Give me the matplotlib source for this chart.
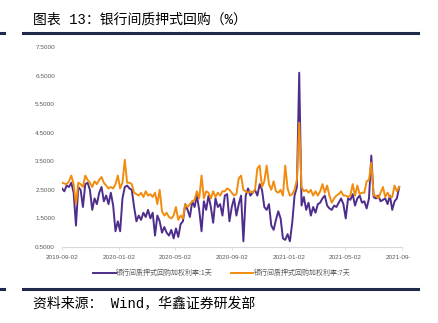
import matplotlib
matplotlib.use("Agg")
import matplotlib.pyplot as plt
from matplotlib.transforms import Bbox, TransformedBbox
import pandas as pd

# 银行间质押式回购加权利率（%），每5天取一个值
start = "2019-09-02"
rate_1d = [2.55, 2.45, 2.65, 2.6, 2.75, 2.4, 1.25, 2.6, 2.5, 1.9,
           2.7, 2.75, 2.5, 1.8, 2.2, 2.0, 2.4, 2.6, 2.1, 2.3,
           2.0, 2.4, 1.95, 1.05, 1.4, 1.05, 2.2, 2.6, 2.65, 2.55,
           2.5, 1.9, 1.4, 1.6, 1.45, 1.7, 1.55, 1.8, 1.5, 1.7,
           0.9, 1.6, 1.4, 1.0, 1.2, 1.0, 0.9, 1.1, 0.8, 1.15,
           0.85, 1.3, 1.4, 2.0, 1.8, 1.55, 2.1, 1.9, 2.3, 1.8,
           1.05, 2.1, 1.8, 2.3, 1.9, 1.35, 2.2, 1.9, 2.0, 1.6,
           2.3, 2.35, 1.4, 1.9, 2.2, 1.6, 2.0, 2.3, 0.7, 2.3,
           2.55, 2.3, 2.4, 2.5, 2.3, 2.7, 2.5, 1.9, 1.8, 2.0,
           1.25, 1.1, 1.45, 1.75, 1.5, 0.8, 0.75, 0.95, 0.7, 1.35,
           2.3, 2.6, 6.6, 1.95, 2.25, 1.8, 2.05, 1.6, 1.9, 1.7,
           2.0, 2.05, 2.2, 2.3, 1.95, 1.85, 1.8, 1.95, 1.9, 2.05,
           2.2, 2.0, 1.5, 2.2, 2.15, 2.35, 1.95, 2.2, 2.3, 2.05,
           2.1, 1.85, 2.2, 3.7, 2.25, 2.2, 2.3, 2.1, 2.15, 2.2,
           2.0, 2.3, 1.8, 2.1, 2.2, 2.6]
rate_7d = [2.75, 2.72, 2.7, 2.8, 3.0, 2.7, 2.0, 2.75, 2.7, 2.6,
           3.0, 2.85, 2.75, 2.6, 2.8, 2.7, 2.85, 2.95, 2.75, 2.65,
           2.55, 2.6, 2.55, 2.7, 3.0, 2.55, 2.75, 3.55, 2.75, 2.75,
           2.7, 2.4, 2.35, 2.3, 2.4, 2.25, 2.45, 2.3, 2.35, 2.25,
           2.4, 2.0, 2.5, 1.75, 1.6, 1.7, 1.55, 1.5, 1.6, 1.9,
           1.45, 1.6, 1.5, 2.0, 1.9, 2.0, 2.1, 2.15, 2.45, 2.2,
           3.0, 2.2, 2.45, 2.4, 2.2, 2.45, 2.25, 2.4, 2.3, 2.45,
           2.45, 2.55, 2.5, 2.4, 2.3, 2.35, 2.9, 3.0, 2.5, 2.45,
           2.4, 2.45, 2.4, 2.5, 3.25, 3.35, 2.6, 2.8, 3.35, 2.7,
           2.5, 2.8, 2.45, 2.4, 2.5, 2.3, 3.35, 2.55, 2.3, 2.35,
           2.5, 2.85, 4.85, 2.6, 2.45, 2.5, 2.4, 2.5, 2.3, 2.45,
           2.3, 2.45, 2.7, 2.4, 2.65, 2.3, 2.05, 2.2, 2.3, 2.35,
           2.45, 2.3, 2.3, 2.25, 2.3, 2.7, 2.3, 2.65, 2.35, 2.4,
           2.4, 2.8, 2.85, 3.45, 2.3, 2.3, 2.2, 2.4, 2.6, 2.25,
           2.4, 2.25, 2.25, 2.65, 2.45, 2.6]
dates = pd.date_range(start, periods=len(rate_1d), freq="5D")

tick_dates = ["2019-09-02", "2020-01-02", "2020-05-02", "2020-09-02",
              "2021-01-02", "2021-05-02", "2021-09-02"]
y_ticks = [0.5, 1.5, 2.5, 3.5, 4.5, 5.5, 6.5, 7.5]
label_1d = "银行间质押式回购加权利率:1天"
label_7d = "银行间质押式回购加权利率:7天"

cjk = ["Noto Sans CJK SC", "DejaVu Sans"]
mono = ["Liberation Mono", "Noto Sans CJK SC"]
grey = "#595959"
navy = "#1f2a4a"

fig = plt.figure(figsize=(4.38, 3.23), dpi=100)
W, H = 438, 323

ax = fig.add_axes([62 / W, 1 - 247 / H, 340 / W, 200 / H])
ax.plot(dates, rate_1d, color="#4e2d8c", lw=1.4, label=label_1d)
ax.plot(dates, rate_7d, color="#f28c0f", lw=1.4, label=label_7d)

ax.set_xlim(pd.Timestamp("2019-09-02"), pd.Timestamp("2021-09-02"))
ax.set_ylim(0.5, 7.5)
ax.set_yticks(y_ticks)
ax.set_yticklabels(["%.4f" % v for v in y_ticks])
ax.set_xticks([pd.Timestamp(d) for d in tick_dates])
ax.set_xticklabels(tick_dates)

for s in ["top", "right", "left"]:
    ax.spines[s].set_visible(False)
ax.spines["bottom"].set_color("#d9d9d9")
ax.spines["bottom"].set_linewidth(0.8)
ax.tick_params(axis="y", length=0, pad=5, labelsize=4.6, labelcolor=grey)
ax.tick_params(axis="x", length=2.5, width=0.6, color="#d9d9d9", pad=3,
               labelsize=4.6, labelcolor=grey)
for t in ax.get_xticklabels() + ax.get_yticklabels():
    t.set_fontfamily("Liberation Sans")

# 最后一个日期标签在右边被截掉
last = ax.get_xticklabels()[-1]
last.set_clip_on(True)
last.set_clip_box(TransformedBbox(Bbox([[0, 0], [410 / W, 1]]), fig.transFigure))

leg = fig.legend(loc="center", bbox_to_anchor=(222 / W, 1 - 273 / H), ncol=2,
                 frameon=False, handlelength=3.2, handletextpad=0.1,
                 columnspacing=2.6, prop={"family": cjk, "size": 5})
for t in leg.get_texts():
    t.set_color(grey)

# 标题、来源和分隔线
fig.text(33 / W, 1 - 20 / H, "图表 13：银行间质押式回购（%）", fontsize=10,
         family=mono, color="#000000", va="center", ha="left")
fig.text(33 / W, 1 - 303 / H, "资料来源： Wind，华鑫证券研发部", fontsize=10,
         family=mono, color="#000000", va="center", ha="left")
for yy in [33, 289]:
    fig.add_artist(plt.Line2D([23 / W, 418 / W], [1 - yy / H] * 2, color=navy, lw=2.2))
    fig.add_artist(plt.Line2D([0, 4 / W], [1 - yy / H] * 2, color=navy, lw=2.2))

fig.savefig("out.png", dpi=100)
